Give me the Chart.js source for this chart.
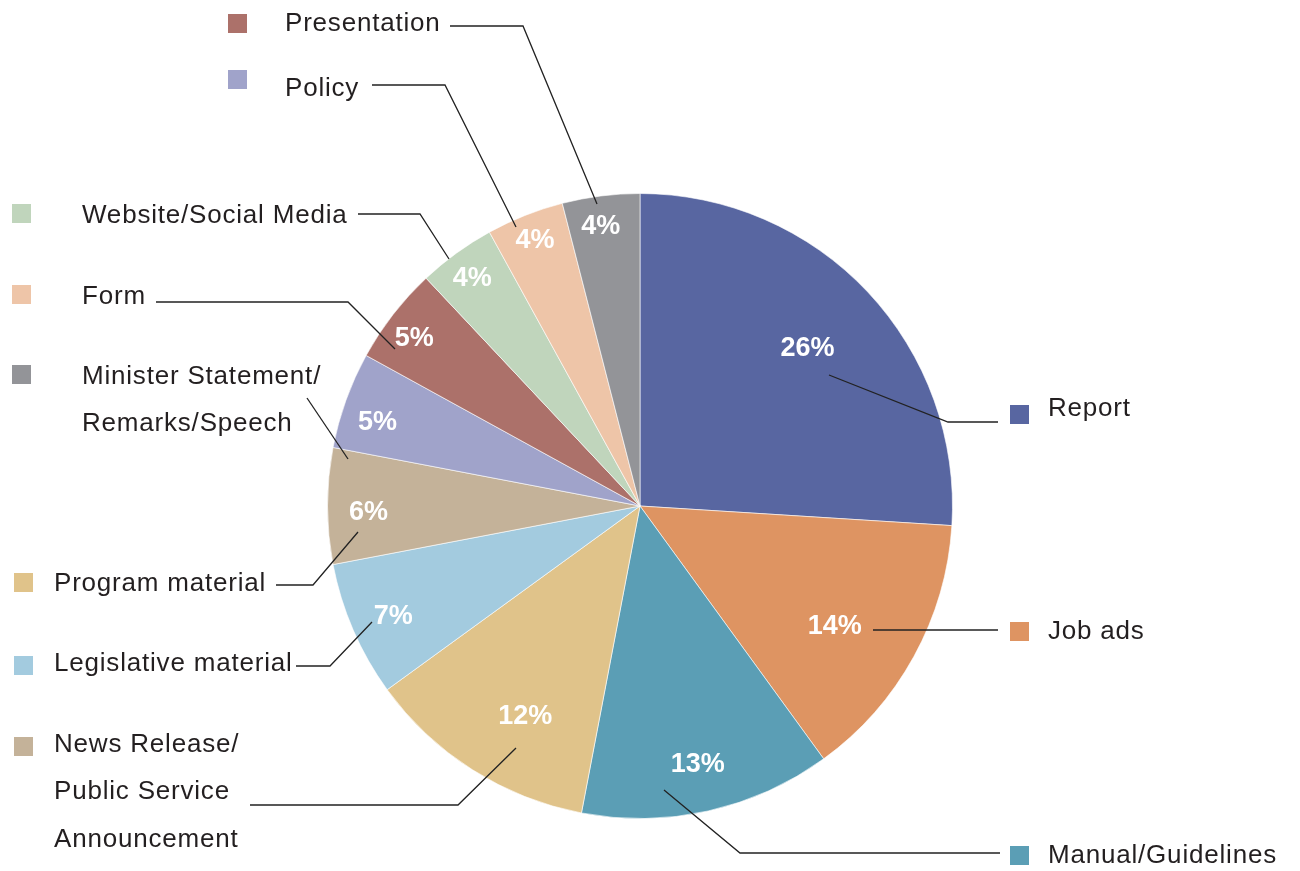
<!DOCTYPE html>
<html>
<head>
<meta charset="utf-8">
<script src="https://cdn.jsdelivr.net/npm/chart.js@4/dist/chart.umd.min.js"></script>
<style>
  html, body { margin: 0; padding: 0; background: #fff; }
  #wrap { width: 1300px; height: 871px; }
</style>
</head>
<body>
<div id="wrap"><canvas id="pie" width="1300" height="871"></canvas></div>
<script>
// data, clockwise from 12 o'clock
const categories = ['Report', 'Job ads', 'Manual/Guidelines', 'Program material', 'Legislative material',
  'News Release/ Public Service Announcement', 'Minister Statement/ Remarks/Speech', 'Form',
  'Website/Social Media', 'Policy', 'Presentation'];
const shares = [26, 14, 13, 12, 7, 6, 5, 5, 4, 4, 4];
const sliceColors = ['#5866A1', '#DE9462', '#5B9EB5', '#E0C38A', '#A3CBDF', '#C4B299',
  '#A0A3CA', '#AC716A', '#C0D5BC', '#EEC5A8', '#939498'];
// the key swatches as printed in the original (not all match their slice)
const keyColors = ['#5866A1', '#DE9462', '#5B9EB5', '#E0C38A', '#A3CBDF', '#C4B299',
  '#939498', '#EEC5A8', '#C0D5BC', '#A0A3CA', '#AC716A'];

// placement of the percent labels (radius fraction, angle nudge in deg), leaders and key entries
const layout = [
  { r: 0.735, da: 0,    text: [[1048, 409]], sq: [1010, 405], lead: [[829, 375], [948, 422], [998, 422]] },
  { r: 0.733, da: 3,    text: [[1048, 632]], sq: [1010, 622], lead: [[873, 630], [998, 630]] },
  { r: 0.847, da: 0,    text: [[1048, 856]], sq: [1010, 846], lead: [[664, 790], [740, 853], [1000, 853]] },
  { r: 0.767, da: -3.8, text: [[54, 584]], sq: [14, 573], lead: [[358, 532], [313, 585], [276, 585]] },
  { r: 0.866, da: -0.8, text: [[54, 664]], sq: [14, 656], lead: [[372, 622], [330, 666], [296, 666]] },
  { r: 0.869, da: -1.3, text: [[54, 745], [54, 792], [54, 840]], sq: [14, 737], lead: [[516, 748], [458, 805], [250, 805]] },
  { r: 0.882, da: -2.1, text: [[82, 377], [82, 424]], sq: [12, 365], lead: [[348, 459], [307, 398]] },
  { r: 0.90,  da: -1.2, text: [[82, 297]], sq: [12, 285], lead: [[395, 349], [348, 302], [156, 302]] },
  { r: 0.905, da: -0.4, text: [[82, 216]], sq: [12, 204], lead: [[449, 259], [420, 214], [358, 214]] },
  { r: 0.913, da: 0,    text: [[285, 89]], sq: [228, 70], lead: [[516, 227], [445, 85], [372, 85]] },
  { r: 0.903, da: -0.8, text: [[285, 24]], sq: [228, 14], lead: [[597, 204], [523, 26], [450, 26]] }
];
const textLines = [
  ['Report'], ['Job ads'], ['Manual/Guidelines'], ['Program material'], ['Legislative material'],
  ['News Release/', 'Public Service', 'Announcement'], ['Minister Statement/', 'Remarks/Speech'],
  ['Form'], ['Website/Social Media'], ['Policy'], ['Presentation']
];

const FONT = '"Liberation Sans", Arial, sans-serif';

const annotate = {
  id: 'annotate',
  afterDraw(chart) {
    const ctx = chart.ctx;
    const arcs = chart.getDatasetMeta(0).data;
    ctx.save();
    // leader lines
    ctx.strokeStyle = '#222';
    ctx.lineWidth = 1.3;
    layout.forEach(l => {
      ctx.beginPath();
      l.lead.forEach((p, i) => i ? ctx.lineTo(p[0], p[1]) : ctx.moveTo(p[0], p[1]));
      ctx.stroke();
    });
    // percent labels inside the slices
    ctx.fillStyle = '#fff';
    ctx.font = 'bold 27px ' + FONT;
    ctx.textAlign = 'center';
    ctx.textBaseline = 'middle';
    arcs.forEach((arc, i) => {
      const mid = (arc.startAngle + arc.endAngle) / 2 + layout[i].da * Math.PI / 180;
      const rr = arc.outerRadius * layout[i].r;
      ctx.fillText(shares[i] + '%', arc.x + Math.cos(mid) * rr, arc.y + Math.sin(mid) * rr);
    });
    // key swatches and names
    ctx.textAlign = 'left';
    ctx.font = '26px ' + FONT;
    ctx.letterSpacing = '0.8px';
    layout.forEach((l, i) => {
      ctx.fillStyle = keyColors[i];
      ctx.fillRect(l.sq[0], l.sq[1], 19, 19);
      ctx.fillStyle = '#231f20';
      textLines[i].forEach((t, j) => ctx.fillText(t, l.text[j][0], l.text[j][1]));
    });
    ctx.restore();
  }
};

new Chart(document.getElementById('pie'), {
  type: 'pie',
  data: {
    labels: categories,
    datasets: [{
      data: shares,
      backgroundColor: sliceColors,
      borderColor: 'rgba(255,255,255,0.6)',
      borderWidth: 1
    }]
  },
  options: {
    responsive: false,
    maintainAspectRatio: false,
    animation: false,
    layout: { padding: { left: 0, right: 20, top: 193, bottom: 52 } },
    plugins: { legend: { display: false }, tooltip: { enabled: false } }
  },
  plugins: [annotate]
});
</script>
</body>
</html>
